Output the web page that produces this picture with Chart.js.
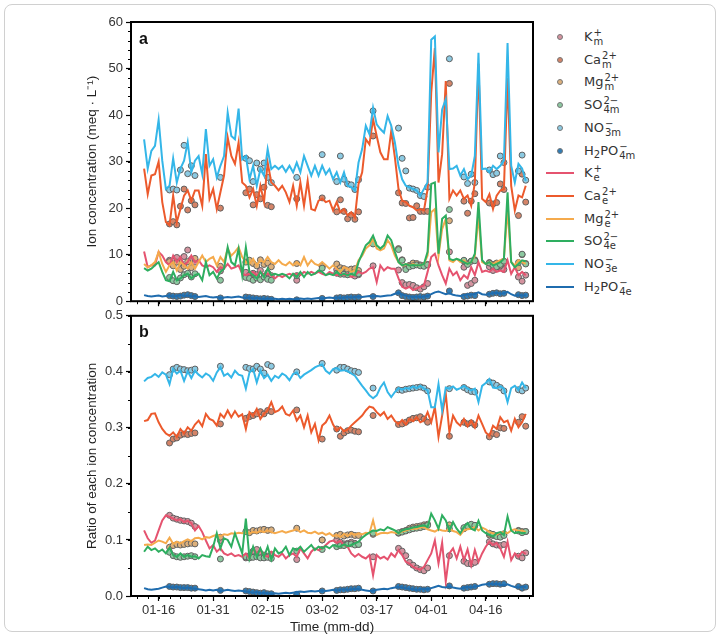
<!DOCTYPE html>
<html>
<head>
<meta charset="utf-8">
<script src="https://cdn.jsdelivr.net/npm/chart.js@4.4.0/dist/chart.umd.min.js"></script>
<style>
body { margin:0; background:#fff; }
#wrap { position:relative; width:720px; height:636px; overflow:hidden; font-family:"Liberation Sans", Arial, sans-serif; }
#frame { position:absolute; left:4px; top:4px; width:710px; height:626px; border:1px solid #d0d0d0; border-radius:8px; }
canvas { position:absolute; left:0; }
#ca { top:0; }
#cb { top:305px; }
.plab { position:absolute; font:bold 16px "Liberation Sans", Arial, sans-serif; color:#111; }
#legend { position:absolute; left:540px; top:0; width:180px; height:310px; font-family:"DejaVu Sans", sans-serif; font-size:13px; color:#333; }
.row { position:absolute; left:0; width:170px; height:22px; }
.mk { position:absolute; left:17px; top:8px; width:4px; height:4px; border-radius:50%; border:1px solid #777; }
.ln { position:absolute; left:6px; top:10px; width:28px; height:2px; }
.tx { position:absolute; left:44px; top:0; line-height:22px; white-space:nowrap; }
.st { display:inline-flex; flex-direction:column; font-size:10px; line-height:9px; vertical-align:5px; margin-left:1px; }
.sb { font-size:10px; vertical-align:-3px; }
</style>
</head>
<body>
<div id="wrap">
  <div id="frame"></div>
  <canvas id="ca" width="540" height="312"></canvas>
  <canvas id="cb" width="540" height="331"></canvas>
  <div class="plab" style="left:139px; top:30px;">a</div>
  <div class="plab" style="left:139px; top:323px;">b</div>
  <div id="legend"></div>
</div>
<script>
// ---- axis ticks (day of year) ----
var tickDays = [16, 31, 46, 61, 76, 91, 106];
var tickLabels = ["01-16", "01-31", "02-15", "03-02", "03-17", "04-01", "04-16"];

// daily estimated series start on day 12 (01-12), one value per day
var firstDay = 12;

// ---- panel a: estimated concentrations (meq/L) ----
var Ke_a = [10.7,7.3,7.7,7.7,10.6,9.8,8.4,7.7,9.8,8.4,
  9.5,7.7,8.4,9.8,8.4,8.8,7.7,7.3,7.7,7.3,
  6.3,7.3,7.0,8.0,7.0,7.3,7.7,5.9,5.6,5.9,
  6.3,5.6,6.3,5.6,5.9,5.6,4.9,5.6,5.2,5.6,
  5.9,5.6,5.9,5.6,6.3,5.9,6.3,5.9,6.3,5.9,
  5.6,6.3,5.9,5.6,5.9,5.6,5.9,5.2,5.6,6.3,
  5.9,6.3,7.0,7.3,4.1,7.7,6.6,7.3,7.0,7.0,
  4.9,3.1,2.7,3.1,2.4,2.7,3.1,3.4,6.3,9.5,
  10.2,7.7,5.6,3.8,7.0,5.6,6.3,4.5,5.6,4.9,
  7.3,5.6,8.4,6.3,6.6,6.3,7.0,6.3,6.6,6.3,
  8.8,5.9,7.3,5.6,6.3,5.6];
var Cae_a = [28.5,23.0,27.0,27.3,30.0,21.3,17.0,16.3,22.7,17.0,
  19.8,22.7,23.8,21.6,23.8,23.8,20.5,31.6,22.0,24.1,
  19.8,23.4,27.0,35.2,31.2,29.5,34.1,25.5,24.8,22.3,
  24.1,20.5,24.8,21.3,29.8,25.5,24.8,23.8,24.8,23.4,
  21.3,24.8,20.5,25.5,20.5,25.9,19.8,19.5,21.6,22.0,
  21.3,21.6,19.5,21.3,19.1,19.8,18.4,19.1,18.0,25.2,
  27.7,34.8,33.7,39.1,35.5,32.0,30.5,30.5,36.6,30.9,
  24.1,21.6,21.3,20.5,20.2,19.5,19.8,19.5,24.1,44.8,
  54.4,25.5,31.6,47.3,22.0,23.8,22.7,23.8,22.0,22.7,
  20.5,25.5,51.0,22.0,21.3,23.0,19.8,22.7,23.8,24.1,
  48.0,24.8,19.5,22.7,22.3,24.8];
var Mge_a = [8.0,7.3,7.7,8.4,10.6,8.0,6.3,7.7,8.4,6.6,
  8.4,7.7,7.0,8.4,7.0,8.4,9.8,8.4,9.1,9.5,
  7.7,9.5,8.4,11.3,9.8,10.6,11.6,9.5,8.4,8.0,
  9.1,7.7,8.8,8.4,9.5,8.4,8.0,8.8,8.0,7.7,
  8.4,7.7,8.4,7.7,9.5,7.7,8.8,8.0,7.7,8.4,
  7.7,7.0,7.7,7.0,6.3,7.3,7.0,6.3,6.6,8.8,
  9.8,11.3,12.0,13.4,11.3,10.9,11.3,13.1,12.0,9.8,
  8.4,7.7,8.0,7.7,8.0,7.7,7.7,8.0,9.8,19.1,
  19.8,9.8,15.5,17.7,8.8,8.4,9.1,8.4,8.8,8.0,
  8.4,9.8,18.4,8.4,8.0,8.4,8.0,8.4,8.8,9.1,
  19.8,8.4,7.7,8.8,8.4,8.0];
var SO4e_a = [7.1,6.6,7.0,7.7,8.4,6.3,4.5,4.3,6.3,4.5,
  4.9,5.6,5.9,4.9,5.6,5.9,4.5,8.4,5.6,6.3,
  4.9,6.3,7.0,11.6,8.4,7.7,11.3,5.6,11.6,6.3,
  5.6,4.9,6.3,5.2,7.0,5.6,5.9,5.6,5.9,5.6,
  4.9,5.9,5.2,6.3,5.2,6.3,5.6,5.9,6.6,6.3,
  5.6,5.9,5.6,6.3,5.6,5.9,5.6,5.9,5.6,8.4,
  10.2,12.0,12.7,14.1,12.0,11.3,12.0,14.1,13.1,10.6,
  8.4,7.7,8.0,7.7,7.8,7.7,7.7,8.0,10.6,25.2,
  25.5,10.2,17.7,18.4,9.1,8.8,9.1,8.8,8.4,8.0,
  8.4,10.2,21.3,8.8,8.0,8.4,7.7,8.0,8.4,9.1,
  23.4,8.4,7.3,8.0,8.8,8.6];
var NO3e_a = [34.8,28.5,32.3,33.4,39.0,30.2,24.1,24.8,30.7,25.5,
  28.5,30.2,34.2,27.7,30.2,31.2,27.3,37.0,29.1,30.5,
  26.6,29.1,31.2,40.5,35.5,34.8,41.4,30.5,31.2,26.2,
  29.1,24.8,28.4,27.0,32.7,28.4,29.1,28.4,29.1,27.8,
  29.1,27.7,29.8,27.7,31.2,29.1,27.0,29.1,27.0,29.1,
  27.3,28.4,26.2,27.7,25.5,27.7,24.8,24.5,23.8,29.8,
  32.7,37.7,35.9,41.6,38.0,37.0,36.2,39.8,37.7,34.1,
  29.1,26.2,24.8,24.5,24.1,23.8,22.7,24.1,25.5,56.2,
  56.9,32.0,41.2,43.4,28.4,28.5,29.1,27.0,28.4,26.2,
  27.0,31.2,53.4,28.4,28.5,27.7,29.1,28.4,29.1,30.2,
  55.5,29.1,25.5,29.5,28.5,25.9];
var H2PO4e_a = [1.3,1.1,1.0,1.1,1.2,1.0,1.1,1.2,1.0,1.1,
  1.3,1.1,1.2,1.0,1.1,0.9,1.0,1.1,0.9,0.8,
  0.9,0.7,0.8,0.9,0.8,0.9,1.0,0.8,0.7,0.8,
  0.6,0.7,0.6,0.5,0.6,0.5,0.5,0.4,0.5,0.4,
  0.5,0.4,0.5,0.6,0.5,0.6,0.5,0.6,0.7,0.6,
  0.7,0.8,0.7,0.8,0.7,0.8,0.9,0.8,0.9,1.0,
  0.9,1.0,1.1,1.0,1.1,1.0,1.1,1.2,1.3,1.6,
  1.8,1.4,1.2,1.0,0.9,1.0,0.9,1.0,1.1,1.5,
  1.9,2.1,1.8,1.5,1.7,1.4,1.2,1.1,1.3,1.5,
  1.4,1.6,1.9,1.5,1.4,1.6,1.7,1.8,1.6,1.7,
  2.0,1.5,1.2,1.3,1.2,1.3];

// ---- panel b: estimated ratios ----
var Ke_b = [.117,.103,.095,.099,.117,.135,.144,.141,.138,.135,
  .137,.132,.134,.130,.117,.125,.114,.099,.085,.091,
  .079,.085,.076,.073,.076,.071,.073,.070,.076,.067,
  .085,.076,.082,.073,.070,.079,.073,.070,.076,.067,
  .073,.076,.070,.085,.076,.067,.079,.085,.082,.085,
  .091,.097,.099,.095,.098,.091,.088,.076,.070,.075,
  .070,.067,.073,.037,.073,.067,.070,.065,.076,.070,
  .082,.073,.061,.058,.052,.049,.047,.052,.064,.076,
  .099,.058,.095,.026,.076,.085,.067,.088,.064,.083,
  .055,.082,.061,.076,.088,.097,.091,.095,.085,.070,
  .097,.064,.076,.070,.079,.075];
var Cae_b = [.312,.314,.325,.326,.310,.298,.290,.286,.292,.284,
  .298,.290,.301,.295,.306,.313,.303,.325,.316,.313,
  .304,.325,.318,.331,.319,.330,.320,.324,.298,.328,
  .322,.334,.316,.325,.331,.346,.328,.331,.338,.325,
  .322,.331,.313,.322,.301,.322,.292,.307,.278,.304,
  .310,.322,.306,.295,.301,.294,.297,.304,.310,.316,
  .322,.331,.338,.336,.328,.322,.328,.316,.322,.312,
  .307,.314,.306,.316,.312,.319,.310,.313,.328,.310,
  .337,.284,.322,.361,.292,.322,.310,.304,.316,.303,
  .313,.301,.322,.307,.292,.286,.304,.298,.319,.310,
  .313,.295,.316,.301,.310,.325];
var Mge_b = [.091,.092,.091,.095,.099,.097,.094,.104,.093,.097,
  .094,.098,.101,.098,.103,.104,.101,.105,.104,.107,
  .109,.107,.110,.109,.112,.111,.113,.112,.113,.112,
  .114,.113,.116,.114,.117,.114,.112,.114,.116,.113,
  .115,.117,.119,.114,.117,.113,.112,.115,.111,.113,
  .109,.112,.107,.109,.105,.111,.107,.112,.109,.112,
  .110,.113,.112,.135,.109,.112,.113,.112,.114,.113,
  .112,.115,.117,.119,.120,.120,.122,.123,.119,.117,
  .115,.119,.117,.116,.120,.116,.114,.109,.117,.119,
  .120,.123,.117,.122,.119,.114,.112,.110,.113,.114,
  .112,.117,.119,.116,.117,.114];
var SO4e_b = [.079,.088,.082,.085,.079,.083,.076,.086,.073,.070,
  .076,.070,.073,.070,.071,.067,.073,.071,.070,.088,
  .112,.085,.103,.100,.088,.112,.094,.076,.138,.067,
  .088,.070,.085,.070,.088,.065,.085,.076,.079,.088,
  .073,.085,.082,.088,.079,.085,.091,.082,.088,.085,
  .089,.085,.091,.089,.088,.092,.089,.091,.094,.097,
  .104,.109,.113,.117,.116,.119,.117,.123,.120,.117,
  .112,.117,.119,.120,.122,.123,.125,.126,.123,.147,
  .135,.120,.144,.135,.117,.132,.120,.112,.123,.130,
  .120,.117,.134,.117,.112,.109,.106,.112,.114,.109,
  .142,.117,.112,.114,.112,.113];
var NO3e_b = [.383,.389,.391,.396,.391,.399,.395,.378,.405,.397,
  .402,.384,.401,.389,.402,.395,.390,.397,.393,.384,
  .399,.408,.393,.397,.390,.402,.395,.393,.370,.399,
  .405,.381,.402,.389,.395,.384,.393,.389,.397,.393,
  .385,.396,.399,.389,.395,.399,.403,.408,.411,.413,
  .402,.397,.405,.407,.402,.403,.401,.397,.393,.384,
  .375,.367,.358,.353,.358,.372,.381,.364,.355,.364,
  .371,.368,.371,.370,.374,.371,.375,.370,.367,.337,
  .337,.378,.331,.372,.370,.374,.368,.371,.375,.370,
  .367,.370,.346,.375,.380,.387,.372,.371,.374,.370,
  .346,.371,.375,.368,.381,.371];
var H2PO4e_b = [.014,.012,.011,.012,.013,.015,.017,.016,.015,.016,
  .015,.014,.015,.014,.013,.012,.011,.010,.011,.010,
  .011,.009,.010,.011,.010,.009,.010,.009,.008,.007,
  .006,.007,.005,.006,.005,.004,.005,.004,.005,.006,
  .005,.006,.007,.008,.007,.008,.009,.008,.009,.010,
  .009,.010,.011,.010,.011,.012,.011,.012,.013,.012,
  .011,.010,.009,.010,.011,.012,.013,.012,.014,.015,
  .016,.015,.014,.013,.012,.011,.012,.013,.012,.014,
  .016,.018,.016,.015,.017,.015,.014,.013,.015,.016,
  .015,.017,.018,.020,.021,.022,.021,.022,.020,.019,
  .021,.018,.016,.015,.017,.016];

// ---- measured samples (days of year) ----
var measDays = [19,20,21,22,23,24,25,26, 33, 40,41,42,43,44,45,46,47, 54, 61,
  65,66,67,68,69,70,71, 75, 82,83,84,85,86,87,88,89,90, 96,
  100,101,102,103, 107,108,109,110,111, 115,116,117];

var Km_a = [8.8,8.6,9.4,8.3,9.6,11.0,9.0,8.4, 6.5, 6.2,5.6,6.0,5.7,6.6,5.3,6.1,5.5, 4.5, 7.5,
  6.8,5.8,6.2,5.7,6.0,5.4,5.7, 7.6, 6.7,4.0,3.5,3.6,3.4,2.9,2.6,3.1,3.8, 10.6,
  7.3,3.4,3.8,4.5, 7.4,6.6,7.0,7.3,6.8, 5.2,4.3,5.6];
var Cam_a = [16.6,17.1,16.4,20.4,24.1,19.6,21.6,20.7, 20.0, 23.3,24.1,20.7,22.9,22.0,24.5,20.6,20.3, 22.0, 22.2,
  19.2,21.8,19.3,17.7,18.5,17.6,19.2, 35.5, 23.3,21.1,21.0,17.9,18.0,20.5,19.3,19.3,19.3, 46.8,
  21.5,18.9,21.5,23.1, 21.1,20.9,21.2,25.2,24.0, 18.4,27.3,21.3];
var Mgm_a = [8.5,7.6,8.4,6.8,7.5,8.5,7.2,9.2, 7.5, 8.4,8.8,8.1,7.6,8.9,7.9,8.2,7.4, 8.1, 7.5,
  8.0,7.2,7.0,6.7,6.9,7.0,6.6, 12.6, 11.3,8.9,7.3,7.7,8.2,8.1,7.8,7.7,7.9, 17.3,
  8.6,8.1,8.6,8.9, 8.3,7.9,8.2,7.6,8.3, 7.2,10.0,8.1];
var SO4m_a = [5.1,4.4,4.2,5.0,5.7,6.0,5.2,5.9, 4.5, 5.1,4.9,4.5,5.0,4.6,5.2,4.7,4.5, 5.5, 7.1,
  6.0,6.5,5.8,5.7,5.9,6.1,5.9, 12.3, 11.1,8.8,6.8,7.4,7.6,7.8,7.6,7.5,7.8, 19.7,
  8.8,7.9,8.6,8.7, 8.2,7.7,7.4,7.9,8.6, 8.3,10.1,8.0];
var NO3m_a = [23.9,24.1,23.9,28.2,33.5,27.4,29.1,27.0, 26.6, 30.7,30.2,25.7,29.7,28.4,29.7,26.6,25.5, 26.6, 31.5,
  25.7,31.2,26.2,25.2,25.0,24.0,26.1, 40.9, 37.2,30.7,28.0,24.3,24.1,23.8,22.7,22.5,24.5, 52.1,
  26.7,25.3,27.3,25.5, 28.2,27.2,27.5,31.2,29.8, 28.0,31.4,26.0];
var H2PO4m_a = [1.2,1.1,1.0,1.1,1.3,1.4,1.2,1.0, 0.7, 0.9,0.8,0.7,0.6,0.5,0.6,0.5,0.4, 0.3, 0.6,
  0.7,0.8,0.7,0.8,0.9,0.8,0.9, 1.0, 1.8,1.2,1.0,0.9,0.8,0.9,1.0,0.9,1.1, 2.2,
  1.0,1.1,1.3,1.2, 1.5,1.7,1.8,1.6,1.7, 1.4,1.2,1.3];

var Km_b = [.144,.139,.137,.135,.134,.133,.130,.124, .099, .068,.072,.080,.083,.076,.073,.071,.074, .065, .100,
  .100,.096,.093,.094,.096,.094,.092, .070, .085,.080,.072,.060,.055,.050,.047,.045,.050, .072,
  .062,.058,.057,.060, .097,.093,.091,.090,.092, .071,.068,.077];
var Cam_b = [.273,.280,.282,.287,.289,.288,.290,.291, .307, .317,.320,.322,.325,.329,.325,.331,.329, .332, .280,
  .298,.285,.291,.295,.296,.294,.293, .322, .306,.307,.310,.314,.317,.318,.320,.316,.310, .285,
  .310,.307,.309,.305, .284,.290,.288,.300,.299, .310,.320,.303];
var Mgm_b = [.087,.090,.092,.091,.092,.093,.094,.093, .105, .115,.113,.117,.116,.118,.119,.117,.118, .121, .100,
  .108,.110,.107,.109,.110,.108,.108, .110, .112,.115,.117,.121,.123,.124,.125,.127,.128, .127,
  .120,.124,.125,.126, .109,.108,.107,.106,.111, .117,.115,.115];
var SO4m_b = [.078,.072,.070,.069,.070,.071,.072,.070, .066, .070,.068,.069,.070,.068,.068,.069,.067, .080, .083,
  .088,.090,.090,.092,.093,.091,.092, .112, .113,.114,.116,.118,.120,.121,.122,.124,.126, .120,
  .122,.125,.128,.126, .112,.110,.106,.105,.108, .116,.113,.115];
var NO3m_b = [.395,.405,.408,.405,.404,.402,.403,.405, .410, .408,.406,.405,.410,.405,.398,.413,.410, .400, .415,
  .403,.408,.408,.405,.402,.401,.399, .371, .368,.367,.369,.370,.371,.372,.373,.371,.366, .370,
  .372,.368,.365,.364, .382,.380,.376,.372,.366, .368,.366,.371];
var H2PO4m_b = [.017,.016,.016,.015,.015,.015,.014,.014, .010, .009,.008,.007,.006,.005,.006,.004,.004, .003, .009,
  .010,.011,.011,.012,.013,.013,.014, .009, .017,.016,.015,.014,.013,.012,.012,.011,.012, .018,
  .014,.015,.016,.017, .021,.022,.022,.021,.022, .017,.014,.016];

// ---- series look ----
var ionBase = ["K", "Ca", "Mg", "SO", "NO", "H<span class='sb'>2</span>PO"];
var ionSub = ["", "", "", "4", "3", "4"];
var ionCharge = ["+", "2+", "2+", "2\u2212", "\u2212", "\u2212"];
var lineColors = ["#e5536f", "#ec5a2c", "#f5aa4c", "#2eae60", "#34b6e8", "#1f6cae"];
var markColors = ["#d4939f", "#d48468", "#dcb07c", "#8cc8a0", "#8ccae2", "#2f7cb6"];

var linesA = [Ke_a, Cae_a, Mge_a, SO4e_a, NO3e_a, H2PO4e_a];
var linesB = [Ke_b, Cae_b, Mge_b, SO4e_b, NO3e_b, H2PO4e_b];
var marksA = [Km_a, Cam_a, Mgm_a, SO4m_a, NO3m_a, H2PO4m_a];
var marksB = [Km_b, Cam_b, Mgm_b, SO4m_b, NO3m_b, H2PO4m_b];

function buildSets(marks, lines) {
    var sets = [];
    marks.forEach(function (vals, k) {
        sets.push({
            data: measDays.map(function (d, i) { return { x: d, y: vals[i] }; }),
            showLine: false,
            pointRadius: 3,
            pointBorderWidth: 1,
            pointBorderColor: "#606060",
            pointBackgroundColor: markColors[k],
            order: 20 - k
        });
    });
    lines.forEach(function (vals, k) {
        sets.push({
            data: vals.map(function (v, i) { return { x: firstDay + i, y: v }; }),
            showLine: true,
            borderColor: lineColors[k],
            borderWidth: 2,
            pointRadius: 0,
            tension: 0,
            order: 10 - k
        });
    });
    return sets;
}

// frame box + minor ticks, matplotlib look
var boxPlugin = {
    id: "box",
    afterDraw: function (chart, args, opts) {
        var ctx = chart.ctx, a = chart.chartArea;
        var x = chart.scales.x, y = chart.scales.y;
        ctx.save();
        ctx.strokeStyle = "#000";
        ctx.lineWidth = 1;
        ctx.beginPath();
        for (var v = opts.xMinorStart; v <= x.max; v += 3) {
            var px = Math.round(x.getPixelForValue(v)) + 0.5;
            ctx.moveTo(px, a.bottom);
            ctx.lineTo(px, a.bottom + 3);
        }
        for (var j = 0; j * opts.yMinor <= y.max + 1e-9; j++) {
            var py = Math.round(y.getPixelForValue(j * opts.yMinor)) + 0.5;
            ctx.moveTo(a.left, py);
            ctx.lineTo(a.left - 3, py);
        }
        ctx.stroke();
        ctx.lineWidth = 2;
        ctx.strokeRect(a.left, a.top, a.right - a.left, a.bottom - a.top);
        ctx.restore();
    }
};

var tickFont = { family: "'Liberation Sans', Arial, sans-serif", size: 13 };
var titleFont = { family: "'Liberation Sans', Arial, sans-serif", size: 13.5 };

function makeChart(id, marks, lines, opt) {
    return new Chart(document.getElementById(id), {
        type: "scatter",
        data: { datasets: buildSets(marks, lines) },
        plugins: [boxPlugin],
        options: {
            responsive: false,
            animation: false,
            devicePixelRatio: 1,
            layout: { padding: opt.padding },
            plugins: {
                legend: { display: false },
                tooltip: { enabled: false },
                box: { xMinorStart: 10, yMinor: opt.yMinor }
            },
            scales: {
                x: {
                    type: "linear",
                    min: 8.4,
                    max: 119,
                    border: { display: false },
                    grid: { drawOnChartArea: false, drawTicks: true, tickLength: 5, tickColor: "#000", tickWidth: 1.2 },
                    afterBuildTicks: function (s) {
                        s.ticks = tickDays.map(function (d) { return { value: d }; });
                    },
                    afterFit: function (s) { s.height = opt.xHeight; },
                    ticks: {
                        display: opt.xLabels,
                        padding: 2,
                        color: "#333",
                        font: tickFont,
                        maxRotation: 0,
                        callback: function (v, i) { return tickLabels[i]; }
                    },
                    title: {
                        display: opt.xLabels,
                        text: "Time (mm-dd)",
                        color: "#222",
                        font: titleFont,
                        padding: { top: 0, bottom: 1 }
                    }
                },
                y: {
                    min: 0,
                    max: opt.yMax,
                    border: { display: false },
                    grid: { drawOnChartArea: false, drawTicks: true, tickLength: 5, tickColor: "#000", tickWidth: 1.2 },
                    afterFit: function (s) { s.width = 51; },
                    ticks: {
                        stepSize: opt.yStep,
                        padding: 3,
                        color: "#333",
                        font: tickFont,
                        callback: opt.yFmt
                    },
                    title: {
                        display: true,
                        text: opt.yTitle,
                        color: "#222",
                        font: titleFont,
                        padding: { top: 4, bottom: 0 }
                    }
                }
            }
        }
    });
}

makeChart("ca", marksA, linesA, {
    padding: { left: 80, right: 7, top: 22, bottom: 0 },
    xHeight: 9, xLabels: false,
    yMax: 60, yStep: 10, yMinor: 2,
    yFmt: function (v) { return v.toString(); },
    yTitle: "Ion concentration (meq \u00b7 L\u207b\u00b9)"
});

makeChart("cb", marksB, linesB, {
    padding: { left: 80, right: 7, top: 10, bottom: 0 },
    xHeight: 40, xLabels: true,
    yMax: 0.5, yStep: 0.1, yMinor: 0.05,
    yFmt: function (v) { return v.toFixed(1); },
    yTitle: "Ratio of each ion concentration"
});

// ---- legend with sub/superscripts ----
var legend = document.getElementById("legend");
function ionLabel(k, phase) {
    return ionBase[k] + "<span class='st'><span>" + ionCharge[k] + "</span><span>" +
        ionSub[k] + phase + "</span></span>";
}
for (var r = 0; r < 12; r++) {
    var k = r % 6;
    var row = document.createElement("div");
    row.className = "row";
    row.style.top = (26 + r * 22.7) + "px";
    if (r < 6) {
        row.innerHTML = "<div class='mk' style='background:" + markColors[k] + "'></div>" +
            "<div class='tx'>" + ionLabel(k, "m") + "</div>";
    } else {
        row.innerHTML = "<div class='ln' style='background:" + lineColors[k] + "'></div>" +
            "<div class='tx'>" + ionLabel(k, "e") + "</div>";
    }
    legend.appendChild(row);
}
</script>
</body>
</html>
